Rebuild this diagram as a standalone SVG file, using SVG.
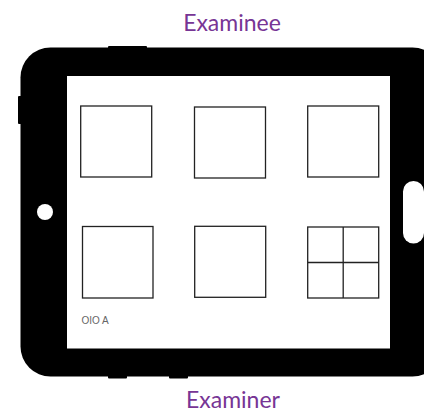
<svg xmlns="http://www.w3.org/2000/svg" width="424" height="413" viewBox="0 0 424 413">
<style>
.box{fill:#fff;stroke:#222;stroke-width:1.3}
.title{font-family:"Lato","Noto Sans",sans-serif;font-size:23px;fill:#773595;text-anchor:middle}
.small{font-family:"Liberation Sans",Arial,sans-serif;font-size:10px;fill:#666}
</style>
<rect width="424" height="413" fill="#fff"/>
<g id="tablet">
<rect x="108" y="46" width="39" height="6" rx="1" fill="#000"/>
<rect x="18" y="96" width="6" height="28" rx="1" fill="#000"/>
<rect x="108" y="372" width="19" height="6.500" rx="1" fill="#000"/>
<rect x="169" y="372" width="19" height="6.500" rx="1" fill="#000"/>
<rect x="20.500" y="47.500" width="422" height="329" rx="30" fill="#000"/>
<rect x="67" y="76" width="323" height="272.500" fill="#fff"/>
<circle cx="45" cy="212" r="8" fill="#fff"/>
<rect x="403" y="181" width="21" height="62.500" rx="10.500" fill="#fff"/>
</g>
<g id="box1"><rect class="box" x="80.700" y="106" width="71" height="71"/></g>
<g id="box2"><rect class="box" x="194.500" y="107" width="71" height="71"/></g>
<g id="box3"><rect class="box" x="307.700" y="106" width="71" height="71"/></g>
<g id="box4"><rect class="box" x="82.500" y="226.500" width="70.500" height="71.500"/></g>
<g id="box5"><rect class="box" x="194.700" y="226.300" width="71" height="71"/></g>
<g id="box6"><rect class="box" x="307.700" y="227" width="71" height="71"/>
<path d="M343.200 227V298M307.700 262.500H378.700" fill="none" stroke="#222" stroke-width="1.300"/></g>
<g id="label-examinee"><text class="title" x="232" y="31">Examinee</text></g>
<g id="label-examiner"><text class="title" x="233" y="408">Examiner</text></g>
<g id="label-oio"><text class="small" x="81.500" y="324">OIO A</text></g>
</svg>
